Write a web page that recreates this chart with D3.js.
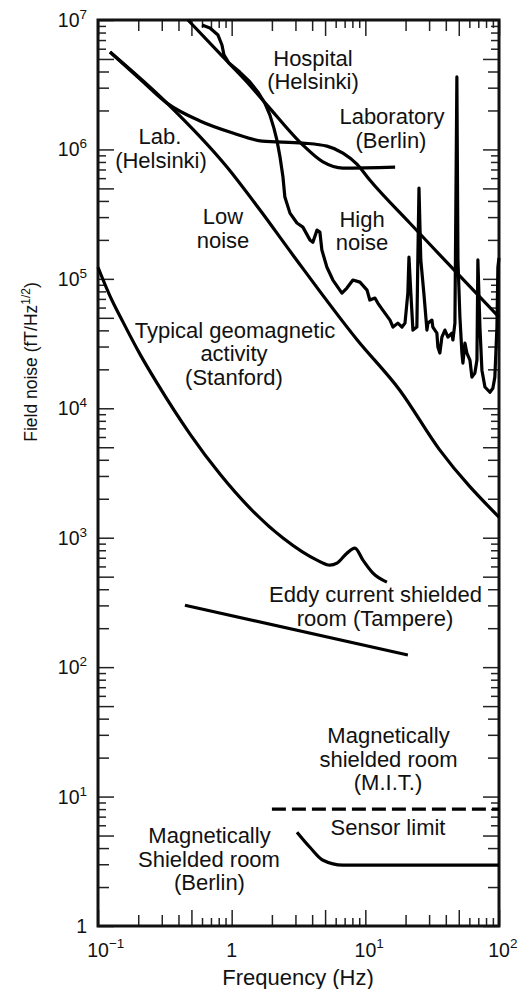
<!DOCTYPE html>
<html><head><meta charset="utf-8">
<script src="https://cdn.jsdelivr.net/npm/d3@7"></script>
<style>
html,body{margin:0;padding:0;background:#fff;}
svg text{font-family:"Liberation Sans",Arial,Helvetica,sans-serif;fill:#111;}
</style>
</head><body>
<svg id="chart" width="524" height="989"></svg>
<script>
// ---------- data (frequency in Hz, field noise in fT/Hz^1/2) ----------
const freqTicks = [0.1, 1, 10, 100];
const freqTickLabels = [["10", "\u22121"], ["1", ""], ["10", "1"], ["10", "2"]];
const noiseTicks = [1, 10, 100, 1e3, 1e4, 1e5, 1e6, 1e7];
const noiseTickLabels = [["1", ""], ["10", "1"], ["10", "2"], ["10", "3"], ["10", "4"], ["10", "5"], ["10", "6"], ["10", "7"]];

const lowNoise = [[0.123,5.66e6],[0.328,2.28e6],[0.922,7.31e5],[1.63,3.40e5],[2.87,1.53e5],[8.70,3.37e4],[18.1,1.38e4],[36.1,4.75e3],[100,1.44e3]];
const labHelsinki = [[0.123,5.66e6],[0.206,3.50e6],[0.328,2.28e6],[0.579,1.66e6],[1.02,1.34e6],[1.69,1.16e6],[3.41,1.12e6],[5.16,1.06e6],[6.80,9.38e5],[8.65,7.71e5],[10.8,5.80e5],[21.5,2.70e5],[100,5.07e4]];
const labBerlin = [[0.471,1.0e7],[0.861,5.18e6],[1.26,3.44e6],[1.84,2.20e6],[3.41,1.08e6],[4.82,8.0e5],[6.80,7.18e5],[16.7,7.31e5]];
const hospitalHelsinki = [[0.600,9.15e6],[0.688,8.67e6],[0.790,7.65e6],[0.846,6.41e6],[0.876,5.37e6],[0.954,4.65e6],[1.15,3.96e6],[1.37,3.32e6],[1.57,2.78e6],[1.77,2.28e6],[1.93,1.85e6],[2.07,1.46e6],[2.18,1.18e6],[2.30,8.73e5],[2.42,6.12e5],[2.50,4.29e5],[2.73,3.22e5],[3.08,2.70e5],[3.41,2.51e5],[3.85,2.00e5],[4.05,1.92e5],[4.35,2.38e5],[4.57,2.30e5],[4.73,1.67e5],[5.16,1.23e5],[5.72,9.79e4],[6.68,7.76e4],[7.28,8.49e4],[8.07,9.79e4],[9.11,9.44e4],[10.3,8.19e4],[10.8,6.86e4],[11.8,7.11e4],[12.4,6.50e4],[13.5,5.74e4],[15.3,4.80e4],[16.1,4.24e4],[17.5,4.55e4],[18.8,4.24e4],[19.8,4.55e4],[20.8,7.76e4],[21.2,1.47e5],[21.9,7.76e4],[22.7,4.02e4],[24.3,4.24e4],[24.7,1.40e5],[25.2,5.03e5],[26.0,1.40e5],[27.4,7.76e4],[28.9,4.02e4],[29.4,4.55e4],[31.5,4.80e4],[32.0,4.24e4],[34.3,3.81e4],[34.9,2.97e4],[36.1,2.67e4],[37.4,3.55e4],[39.4,4.02e4],[41.5,3.55e4],[44.4,3.81e4],[45.2,3.37e4],[46.8,4.55e4],[48.4,3.63e6],[49.3,1.40e5],[51.0,5.07e4],[52.8,2.67e4],[53.7,2.23e4],[55.6,3.19e4],[57.5,2.67e4],[60.6,2.36e4],[62.7,1.74e4],[66.0,1.87e4],[68.4,2.36e4],[69.5,1.40e5],[72.0,4.24e4],[74.5,1.97e4],[78.5,1.46e4],[85.5,1.33e4],[90.0,1.43e4],[93.1,1.74e4],[96.5,4.24e4],[98.1,1.23e5],[100,1.45e5]];
const geomagneticStanford = [[0.1,1.23e5],[0.123,7.36e4],[0.154,4.63e4],[0.206,2.62e4],[0.276,1.57e4],[0.488,6.32e3],[0.817,3.10e3],[1.37,1.69e3],[2.42,993],[4.35,671],[5.43,614],[6.13,636],[7.28,760],[8.36,832],[9.60,671],[11.4,533],[14.5,454]];
const eddyTampere = [[0.447,301],[20.8,124]];
const sensorLimit = [[2.0,8.0],[100,8.0]];
const shieldedBerlin = [[3.08,5.31],[3.85,4.06],[4.82,3.22],[6.80,2.95],[100,2.95]];

// ---------- layout ----------
const svg = d3.select("#chart");
const L = 98, R = 499, T = 20, B = 926;
const x = d3.scaleLog().domain([0.1, 100]).range([L, R]);
const y = d3.scaleLog().domain([1, 1e7]).range([B, T]);

function tickGroups(domain) {
  const lo = Math.round(Math.log10(domain[0])), hi = Math.round(Math.log10(domain[1]));
  const g = {major: [], half: [], mid: [], small: []};
  for (let d = lo; d <= hi; d++) {
    for (let m = 1; m <= 9; m++) {
      const v = m * Math.pow(10, d);
      if (v > domain[1] * 1.0001) break;
      if (m === 1) g.major.push(v);
      else if (m === 5) g.half.push(v);
      else if (m <= 4) g.mid.push(v);
      else g.small.push(v);
    }
  }
  return g;
}
const tickLen = {major: 16, half: 16, mid: 11, small: 8};
const xg = tickGroups([0.1, 100]);
const yg = tickGroups([1, 1e7]);

const axesG = svg.append("g");
Object.keys(tickLen).forEach(k => {
  const len = tickLen[k];
  const defs = [
    [d3.axisBottom(x).tickValues(xg[k]), `translate(0,${B})`],
    [d3.axisTop(x).tickValues(xg[k]), `translate(0,${T})`],
    [d3.axisLeft(y).tickValues(yg[k]), `translate(${L},0)`],
    [d3.axisRight(y).tickValues(yg[k]), `translate(${R},0)`]
  ];
  defs.forEach(([ax, tr]) => {
    const g = axesG.append("g").attr("transform", tr)
      .call(ax.tickSize(-len).tickFormat(""));
    g.select(".domain").remove();
    g.selectAll(".tick line").attr("stroke", "#222").attr("stroke-width", 1.5);
  });
});

svg.append("rect").attr("x", L).attr("y", T).attr("width", R - L).attr("height", B - T)
  .attr("fill", "none").attr("stroke", "#111").attr("stroke-width", 3);

// tick labels
const xl = svg.append("g").attr("font-size", 19.5);
freqTicks.forEach((v, i) => {
  const [base, sup] = freqTickLabels[i];
  const t = xl.append("text").attr("y", 957);
  if (sup) t.attr("x", x(v) - 10.8).attr("text-anchor", "start");
  else t.attr("x", x(v)).attr("text-anchor", "middle");
  t.append("tspan").text(base);
  if (sup) t.append("tspan").attr("font-size", 13.5).attr("dy", -9).text(sup);
});
const yl = svg.append("g").attr("font-size", 19.5);
noiseTicks.forEach((v, i) => {
  const [base, sup] = noiseTickLabels[i];
  const t = yl.append("text").attr("x", 87).attr("y", y(v) + 7).attr("text-anchor", "end");
  t.append("tspan").text(base);
  if (sup) t.append("tspan").attr("font-size", 13.5).attr("dy", -8).text(sup);
});

// axis titles
svg.append("text").attr("x", 298).attr("y", 985).attr("text-anchor", "middle")
  .attr("font-size", 22).text("Frequency (Hz)");
const yt = svg.append("text").attr("transform", "translate(37,362) rotate(-90)")
  .attr("text-anchor", "middle").attr("font-size", 17.5);
yt.append("tspan").text("Field noise (fT/Hz");
yt.append("tspan").attr("font-size", 12).attr("dy", -7).text("1/2");
yt.append("tspan").attr("dy", 7).text(")");

// curves
const line = d3.line().x(d => x(d[0])).y(d => y(d[1])).curve(d3.curveMonotoneX);
const lineLinear = d3.line().x(d => x(d[0])).y(d => y(d[1]));
const series = [
  {data: lowNoise}, {data: labHelsinki}, {data: labBerlin},
  {data: hospitalHelsinki, linear: true}, {data: geomagneticStanford},
  {data: eddyTampere}, {data: shieldedBerlin},
  {data: sensorLimit, dash: "14,6"}
];
svg.append("g").selectAll("path").data(series).join("path")
  .attr("d", s => (s.linear ? lineLinear : line)(s.data))
  .attr("fill", "none").attr("stroke", "#000").attr("stroke-width", 3.2)
  .attr("stroke-linejoin", "round")
  .attr("stroke-dasharray", s => s.dash || null);

// annotations (text centre x, baseline y)
const annotations = [
  ["Hospital", 313, 66], ["(Helsinki)", 313, 89],
  ["Laboratory", 392, 124], ["(Berlin)", 391, 148],
  ["Lab.", 160, 144], ["(Helsinki)", 161, 168],
  ["Low", 223, 224], ["noise", 223, 248],
  ["High", 362, 227], ["noise", 362, 250],
  ["Typical geomagnetic", 235, 338], ["activity", 234, 361], ["(Stanford)", 234, 385],
  ["Eddy current shielded", 375.5, 602], ["room (Tampere)", 375, 626],
  ["Magnetically", 388.5, 743], ["shielded room", 388.5, 767], ["(M.I.T.)", 388, 790],
  ["Sensor limit", 388, 835],
  ["Magnetically", 209.5, 843], ["Shielded room", 209, 867], ["(Berlin)", 209.5, 890]
];
svg.append("g").attr("font-size", 22).attr("text-anchor", "middle")
  .selectAll("text").data(annotations).join("text")
  .attr("x", d => d[1]).attr("y", d => d[2]).text(d => d[0]);
</script>
</body></html>
